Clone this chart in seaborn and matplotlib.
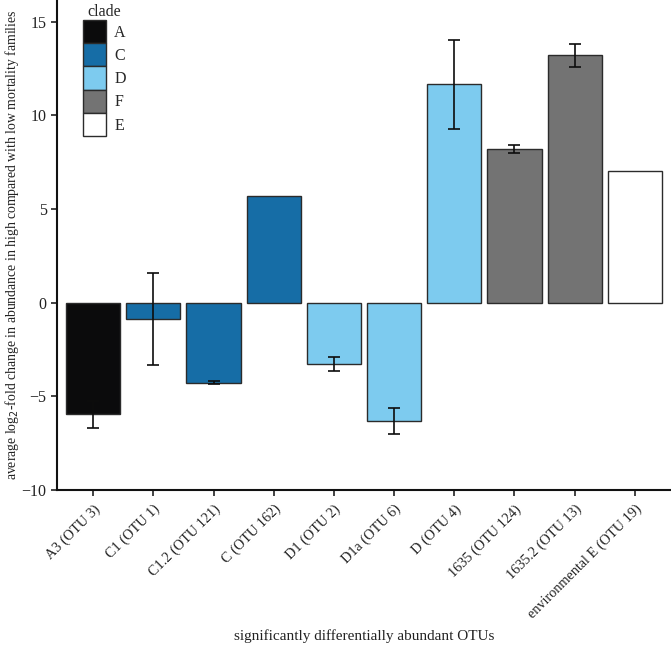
import numpy as np
import pandas as pd
import seaborn as sns
import matplotlib.pyplot as plt
from matplotlib.patches import Patch

# data
otus = ['A3 (OTU 3)', 'C1 (OTU 1)', 'C1.2 (OTU 121)', 'C (OTU 162)', 'D1 (OTU 2)',
        'D1a (OTU 6)', 'D (OTU 4)', '1635 (OTU 124)', '1635.2 (OTU 13)',
        'environmental E (OTU 19)']
clades = ['A', 'C', 'C', 'C', 'D', 'D', 'D', 'F', 'F', 'E']
log2fc = [-5.96, -0.87, -4.27, 5.70, -3.29, -6.30, 11.65, 8.20, 13.20, 7.04]
err = [0.72, 2.44, 0.07, np.nan, 0.36, 0.69, 2.38, 0.21, 0.60, np.nan]

clade_order = ['A', 'C', 'D', 'F', 'E']
clade_colors = {'A': '#0b0b0c', 'C': '#166da6', 'D': '#7dcbef',
                'F': '#737373', 'E': '#ffffff'}

df = pd.DataFrame({'otu': otus, 'clade': clades, 'value': log2fc, 'err': err})

sns.set_style('white')
plt.rcParams['font.family'] = ['Liberation Serif', 'DejaVu Serif']

fig = plt.figure(figsize=(6.71, 6.48), dpi=100)
ax = fig.add_axes([0.085, 0.244, 0.915, 0.756])

sns.barplot(data=df, x='otu', y='value', hue='clade', hue_order=clade_order,
            palette=clade_colors, dodge=False, width=0.9, errorbar=None,
            saturation=1, edgecolor='#2b2b2b', linewidth=1.0, legend=False, ax=ax)

ax.errorbar(np.arange(len(otus)), df['value'], yerr=df['err'], fmt='none',
            ecolor='#0d0d0d', elinewidth=1.2, capsize=4.3, capthick=1.2, zorder=5)

ax.set_xlim(-0.6, 9.6)
ax.set_ylim(-10, 16.16)
ax.set_yticks([-10, -5, 0, 5, 10, 15])
ax.set_yticklabels(['\u221210', '\u22125', '0', '5', '10', '15'])
ax.tick_params(axis='both', direction='out', length=4, width=1.2, color='#222222',
               labelcolor='#222222', bottom=True, left=True)
ax.tick_params(axis='y', labelsize=11.5)
ax.tick_params(axis='x', labelsize=10.3, pad=5)
plt.setp(ax.get_xticklabels(), rotation=45, ha='right', rotation_mode='anchor')

sns.despine(ax=ax)
for s in ['left', 'bottom']:
    ax.spines[s].set_linewidth(1.5)
    ax.spines[s].set_color('#111111')

ax.set_xlabel('significantly differentially abundant OTUs', fontsize=11,
              color='#222222', va='center')
ax.xaxis.set_label_coords(0.5, -0.298)
ax.set_ylabel('average log$_2$-fold change in abundance in high compared with low mortality families',
              fontsize=9.9, color='#222222', va='center')
ax.yaxis.set_label_coords(-0.073, 0.5)

handles = [Patch(facecolor=clade_colors[c], edgecolor='#2b2b2b', linewidth=1.0, label=c)
           for c in clade_order]
leg = ax.legend(handles=handles, title='clade', loc='upper left',
                bbox_to_anchor=(0.032, 1.005), frameon=False, fontsize=11.5,
                title_fontsize=11.5, handlelength=1.45, handleheight=1.86,
                labelspacing=0.0, handletextpad=0.5, borderaxespad=0.0)

fig.savefig('out.png', dpi=100)
